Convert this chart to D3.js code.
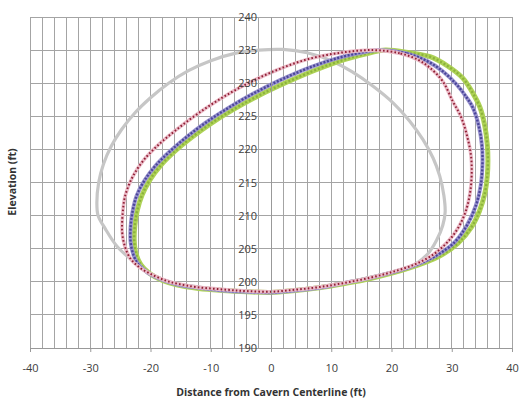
<!DOCTYPE html>
<html><head><meta charset="utf-8">
<script src="https://cdn.jsdelivr.net/npm/d3@7"></script>
<style>body{margin:0;background:#fff}svg{display:block}</style>
</head><body>
<script>
// ---- data ----
const xTicks = [-40,-30,-20,-10,0,10,20,30,40];
const yTicks = [190,195,200,205,210,215,220,225,230,235,240];
const xTitle = "Distance from Cavern Centerline (ft)";
const yTitle = "Elevation (ft)";

const grayX = [-28.9,-28.6,-27.8,-26.5,-24.8,-22.6,-20.0,-17.0,-13.7,-10.0,-6.0,-2.0,2.0,6.0,10.0,13.5,17.0,20.3,23.0,25.2,26.9,28.0,28.7,28.9,28.5,27.5,26.0,23.0,18.0,12.0,6.0,0,-6.0,-12.0,-17.0,-20.5,-23.0,-25.5,-27.5,-28.7];
const grayY = [212.0,215.0,217.8,220.5,223.0,225.5,227.8,230.0,231.9,233.4,234.5,235.0,235.1,234.6,233.4,231.7,229.5,227.0,224.3,221.5,218.7,216.0,213.0,210.5,208.5,206.3,204.2,202.2,201.0,199.8,199.0,198.5,198.7,199.2,200.0,201.5,203.2,205.3,208.0,210.0];

const redX = [17.0,21.5,24.5,26.4,28.5,30.2,31.5,32.5,33.2,33.3,33.0,32.3,31.1,29.3,26.9,23.8,20.2,16.4,12.0,8.0,4.0,0,-4.0,-7.3,-12.3,-15.5,-17.5,-20.0,-22.0,-23.4,-24.3,-24.7,-24.6,-24.2,-23.0,-21.2,-18.8,-15.8,-12.3,-8.3,-3.8,1.0,6.0,11.5];
const redY = [235.0,234.5,233.5,232.3,230.3,227.2,225.0,222.2,219.0,216.0,213.2,210.6,208.2,206.0,204.1,202.6,201.5,200.6,199.8,199.2,198.8,198.5,198.6,198.8,199.2,199.7,200.2,201.2,202.3,203.6,205.5,207.5,210.5,213.0,215.8,218.3,220.6,222.9,225.3,227.7,230.0,232.0,233.6,234.6];

const blueX = [18.0,22.5,26.0,28.5,30.8,32.5,33.5,34.5,35.0,35.1,34.8,34.0,32.5,30.5,27.5,23.0,16.5,12.0,8.0,4.0,0,-4.0,-8.0,-12.0,-15.5,-18.0,-20.5,-22.0,-22.8,-23.3,-23.3,-23.0,-22.3,-21.0,-19.2,-16.9,-14.1,-10.9,-7.2,-3.0,1.6,6.5,11.5,16.0];
const blueY = [235.0,234.5,233.3,231.8,229.8,227.8,226.3,223.5,220.7,218.0,214.5,211.5,208.5,206.0,204.0,202.2,200.6,199.8,199.1,198.7,198.4,198.5,198.7,199.1,199.6,200.3,201.4,202.6,204.0,206.0,208.3,210.5,213.0,215.3,217.5,219.6,221.8,224.0,226.2,228.4,230.5,232.4,233.9,234.8];

const greenX = [19.0,23.0,26.4,29.3,31.8,33.5,34.7,35.5,35.9,36.0,35.9,35.5,34.6,33.3,31.0,28.0,23.0,16.5,12.0,8.0,4.0,0,-4.0,-8.0,-12.0,-15.5,-18.0,-20.2,-21.6,-22.4,-22.7,-22.6,-22.2,-21.4,-20.1,-18.3,-16.0,-13.2,-10.0,-6.3,-2.1,2.5,7.4,12.3,16.5];
const greenY = [235.0,234.6,234.0,232.6,230.8,228.5,226.3,223.5,220.7,218.4,216.0,213.4,210.7,208.3,205.8,203.9,202.1,200.5,199.7,199.1,198.7,198.4,198.5,198.7,199.0,199.5,200.2,201.3,202.6,204.2,206.2,208.5,210.8,213.1,215.4,217.6,219.7,221.8,223.9,226.0,228.1,230.1,232.0,233.6,234.6];

// ---- chart ----
const W = 520, H = 400;
const svg = d3.select("body").append("svg").attr("width", W).attr("height", H);
const x = d3.scaleLinear().domain([-40, 40]).range([30, 512]);
const y = d3.scaleLinear().domain([190, 240]).range([348, 17]);

const grid = svg.append("g");
grid.selectAll("line.v").data(d3.range(-40, 41, 2)).join("line")
  .attr("x1", d => x(d)).attr("x2", d => x(d)).attr("y1", y(190)).attr("y2", y(240))
  .attr("stroke", "#a4a4a4").attr("stroke-width", 1).attr("shape-rendering", "crispEdges");
grid.selectAll("line.h").data(yTicks).join("line")
  .attr("x1", x(-40)).attr("x2", x(40)).attr("y1", d => y(d)).attr("y2", d => y(d))
  .attr("stroke", "#a4a4a4").attr("stroke-width", 1).attr("shape-rendering", "crispEdges");

// x axis along bottom
const xa = svg.append("g").attr("transform", `translate(0,${y(190)})`)
  .call(d3.axisBottom(x).tickValues(xTicks).tickFormat(d => String(d)).tickSize(4).tickPadding(12));
xa.select(".domain").attr("stroke", "#999");
xa.selectAll(".tick line").attr("stroke", "#999");
xa.selectAll("text").attr("font-family", "Open Sans").attr("font-size", 11).attr("fill", "#404040");

const line = d3.line().x(d => x(d[0])).y(d => y(d[1])).curve(d3.curveCatmullRomClosed.alpha(0.5));
const pts = (xs, ys) => xs.map((v, i) => [v, ys[i]]);

// gray
svg.append("path").datum(pts(grayX, grayY)).attr("d", line)
  .attr("fill", "none").attr("stroke", "#c6c6c6").attr("stroke-width", 3.2);
// green
svg.append("path").datum(pts(greenX, greenY)).attr("d", line)
  .attr("fill", "none").attr("stroke", "#aed257").attr("stroke-width", 5);
svg.append("path").datum(pts(greenX, greenY)).attr("d", line)
  .attr("fill", "none").attr("stroke", "#8cb23c").attr("stroke-width", 2.4).attr("stroke-dasharray", "2,2");
// blue
svg.append("path").datum(pts(blueX, blueY)).attr("d", line)
  .attr("fill", "none").attr("stroke", "#9a94cf").attr("stroke-width", 4);
svg.append("path").datum(pts(blueX, blueY)).attr("d", line)
  .attr("fill", "none").attr("stroke", "#4a4699").attr("stroke-width", 2.4).attr("stroke-dasharray", "2,1.6");
// red
svg.append("path").datum(pts(redX, redY)).attr("d", line)
  .attr("fill", "none").attr("stroke", "#ebbcc8").attr("stroke-width", 3.6);
svg.append("path").datum(pts(redX, redY)).attr("d", line)
  .attr("fill", "none").attr("stroke", "#8f1f35").attr("stroke-width", 2).attr("stroke-dasharray", "1.6,2.2");

// y axis at x=0
const ya = svg.append("g").attr("transform", `translate(${x(0)},0)`)
  .call(d3.axisLeft(y).tickValues(yTicks).tickSize(0).tickPadding(14));
ya.select(".domain").attr("stroke", "#999");
ya.selectAll("text").attr("font-family", "Open Sans").attr("font-size", 11).attr("fill", "#404040");

svg.append("text").attr("x", 271).attr("y", 396).attr("text-anchor", "middle")
  .attr("font-family", "Open Sans").attr("font-weight", "bold").attr("font-size", 10.5).attr("fill", "#333")
  .text(xTitle);
svg.append("text").attr("transform", "translate(16,182) rotate(-90)").attr("text-anchor", "middle")
  .attr("font-family", "Open Sans").attr("font-weight", "bold").attr("font-size", 10.5).attr("fill", "#333")
  .text(yTitle);
</script>
</body></html>
